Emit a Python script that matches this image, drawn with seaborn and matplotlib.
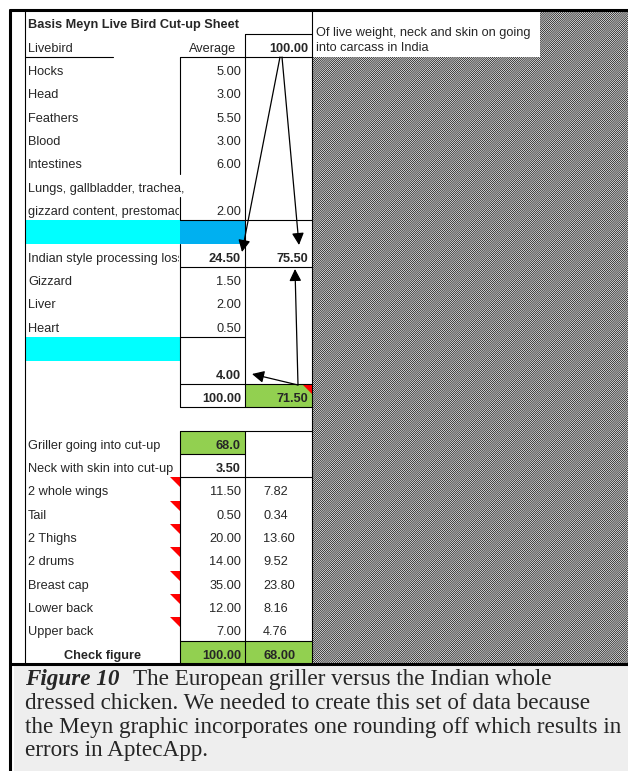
"""
Basis Meyn live bird cut-up sheet, redrawn as a table figure
"""
import matplotlib as mpl
mpl.use('Agg')
from matplotlib import pyplot as plt
from matplotlib.patches import Rectangle, Polygon
import seaborn as sns

sns.set_theme(style='white')
plt.rcParams['font.family'] = ['Liberation Sans', 'DejaVu Sans']
plt.rcParams['hatch.linewidth'] = 0.5

cyan = '#00FFFF'
blue = '#00B0F0'
green = '#92D050'

# data
live_parts = ['Hocks', 'Head', 'Feathers', 'Blood', 'Intestines']
live_avg = [5.00, 3.00, 5.50, 3.00, 6.00]
offal_label = ['Lungs, gallbladder, trachea,', 'gizzard content, prestomach']
offal_avg = 2.00
indian_loss = 24.50
indian_carcass = 75.50
giblets = ['Gizzard', 'Liver', 'Heart']
giblet_avg = [1.50, 2.00, 0.50]
giblet_total = 4.00
live_total = 100.00
carcass_wo_giblets = 71.50
griller = 68.0
neck = 3.50
cuts = ['2 whole wings', 'Tail', '2 Thighs', '2 drums', 'Breast cap', 'Lower back', 'Upper back']
cut_avg = [11.50, 0.50, 20.00, 14.00, 35.00, 12.00, 7.00]
cut_griller = [7.82, 0.34, 13.60, 9.52, 23.80, 8.16, 4.76]
check_avg = 100.00
check_griller = 68.00

caption = ['The European griller versus the Indian whole',
           'dressed chicken. We needed to create this set of data because',
           'the Meyn graphic incorporates one rounding off which results in',
           'errors in AptecApp.']

# rows: (label, avg, right, bold avg, bold right)
rows = []
for p, v in zip(live_parts, live_avg):
    rows.append((p, v, None, False, False))
rows.append((offal_label[0], None, None, False, False))
rows.append((offal_label[1], offal_avg, None, False, False))
rows.append(('', None, None, False, False))
rows.append(('Indian style processing loss', indian_loss, indian_carcass, True, True))
for p, v in zip(giblets, giblet_avg):
    rows.append((p, v, None, False, False))
rows.append(('', None, None, False, False))
rows.append(('', giblet_total, None, True, False))
rows.append(('', live_total, carcass_wo_giblets, True, True))
rows.append(('', None, None, False, False))
rows.append(('Griller going into cut-up', griller, None, True, False))
rows.append(('Neck with skin into cut-up', neck, None, True, False))
for p, v, g in zip(cuts, cut_avg, cut_griller):
    rows.append((p, v, g, False, False))
rows.append(('Check figure', check_avg, check_griller, True, True))

# sheet geometry (pixels)
X0, XA, XB, XC = 25, 180, 245, 312
Y0, RH = 57, 23.35
FS = 9.2


def top(i):
    return Y0 + i * RH


fig = plt.figure(figsize=(6.28, 7.71), dpi=100)
ax = fig.add_axes([0, 0, 1, 1])
ax.set_xlim(0, 628)
ax.set_ylim(771, 0)
ax.axis('off')

# hatched area and note box
ax.add_patch(Rectangle((XC, 10), 628 - XC, top(26) - 10, facecolor='white',
                       edgecolor='black', hatch='/' * 16, lw=0))
ax.add_patch(Rectangle((XC + 1, 12), 540 - XC - 1, 45, facecolor='white', lw=0))
ax.text(316, 33, 'Of live weight, neck and skin on going', fontsize=FS, va='center')
ax.text(316, 48, 'into carcass in India', fontsize=FS, va='center')

# cell fills
ax.add_patch(Rectangle((X0, top(7)), XA - X0, RH, color=cyan, lw=0))
ax.add_patch(Rectangle((XA, top(7)), XB - XA, RH, color=blue, lw=0))
ax.add_patch(Rectangle((X0, top(12)), XA - X0, RH, color=cyan, lw=0))
ax.add_patch(Rectangle((XB, top(14)), XC - XB, RH, color=green, lw=0))
ax.add_patch(Rectangle((XA, top(16)), XB - XA, RH, color=green, lw=0))
ax.add_patch(Rectangle((XA, top(25)), XB - XA, RH, color=green, lw=0))
ax.add_patch(Rectangle((XB, top(25)), XC - XB, RH, color=green, lw=0))

# comment markers
for i in list(range(18, 25)):
    ax.add_patch(Polygon([(XA - 10, top(i)), (XA, top(i)), (XA, top(i) + 10)], color='red', lw=0))
ax.add_patch(Polygon([(XC - 10, top(14)), (XC, top(14)), (XC, top(14) + 10)], color='red', lw=0))

# borders
lw = 0.8
vlines = [(XA, top(0), top(5)), (XA, top(6), top(7)), (XA, top(8), top(15)), (XA, top(16), top(26)),
          (XB, top(-1), top(15)), (XB, top(16), top(26)), (XC, 10, top(26)), (X0, 10, top(26))]
for x, y1, y2 in vlines:
    ax.plot([x, x], [y1, y2], color='black', lw=lw)
hlines = [(top(-1), XB, XC), (top(0), X0, 113), (top(0), XA, XC), (top(7), XA, XC), (top(9), XA, XC),
          (top(12), XA, XB), (top(14), XA, XC), (top(15), XA, XC), (top(16), XA, XC),
          (top(17), XA, XB), (top(18), XA, XC), (top(25), XA, XC)]
for y, x1, x2 in hlines:
    ax.plot([x1, x2], [y, y], color='black', lw=lw)

# outer frame
ax.add_patch(Rectangle((14, top(26) + 1), 628 - 14, 771 - top(26), color='#eeeeee', lw=0))
ax.plot([10, 628], [10, 10], color='black', lw=2.2)
ax.plot([10, 628], [top(26), top(26)], color='black', lw=2.2)
ax.plot([10, 10], [10, 771], color='black', lw=2.2)

# headers
ax.text(28, top(-2) + 15, 'Basis Meyn Live Bird Cut-up Sheet', fontsize=FS, weight='bold', va='center')
ax.text(28, top(-1) + 15, 'Livebird', fontsize=FS, va='center')
ax.text(236, top(-1) + 15, 'Average', fontsize=FS, va='center', ha='right')
ax.text(308, top(-1) + 15, f'{live_total:.2f}', fontsize=FS, va='center', ha='right', weight='bold')

# table rows
for i, (label, a, r, ba, br) in enumerate(rows):
    y = top(i) + 15
    if label == 'Check figure':
        ax.text((X0 + XA) / 2, y, label, fontsize=FS, va='center', ha='center', weight='bold')
    elif label:
        t = ax.text(28, y, label, fontsize=FS, va='center')
        if i in (6, 8):
            clip = Rectangle((X0, top(i)), XA - X0 - 1, RH, transform=ax.transData)
            t.set_clip_path(clip)
            t.set_clip_on(True)
    if a is not None:
        s = f'{a:.1f}' if i == 16 else f'{a:.2f}'
        ax.text(241, y, s, fontsize=FS, va='center', ha='right', weight='bold' if ba else 'normal')
    if r is not None:
        if i in (8, 14):
            ax.text(308, y, f'{r:.2f}', fontsize=FS, va='center', ha='right', weight='bold')
        else:
            ax.text(263, y, f'{r:.2f}', fontsize=FS, va='center', ha='left', weight='bold' if br else 'normal')

# arrows
ap = dict(arrowstyle='-|>,head_length=0.6,head_width=0.3', color='black', lw=0.9, mutation_scale=12,
          shrinkA=0, shrinkB=0)
ax.annotate('', xy=(242, 252), xytext=(280, top(0)), arrowprops=ap)
ax.annotate('', xy=(299, 245), xytext=(282, top(0)), arrowprops=ap)
ax.annotate('', xy=(295, 269), xytext=(298, 385), arrowprops=ap)
ax.annotate('', xy=(252, 374), xytext=(298, 385), arrowprops=ap)

# caption
serif = ['Liberation Serif', 'DejaVu Serif']
CFS = 16.7
ax.text(25, 680, 'Figure 10', fontsize=CFS, family=serif, weight='bold', style='italic', va='center')
ax.text(133, 680, caption[0], fontsize=CFS, family=serif, va='center')
for k, line in enumerate(caption[1:]):
    ax.text(25, 680 + 23.5 * (k + 1), line, fontsize=CFS, family=serif, va='center')

fig.savefig('out.png', dpi=100)
